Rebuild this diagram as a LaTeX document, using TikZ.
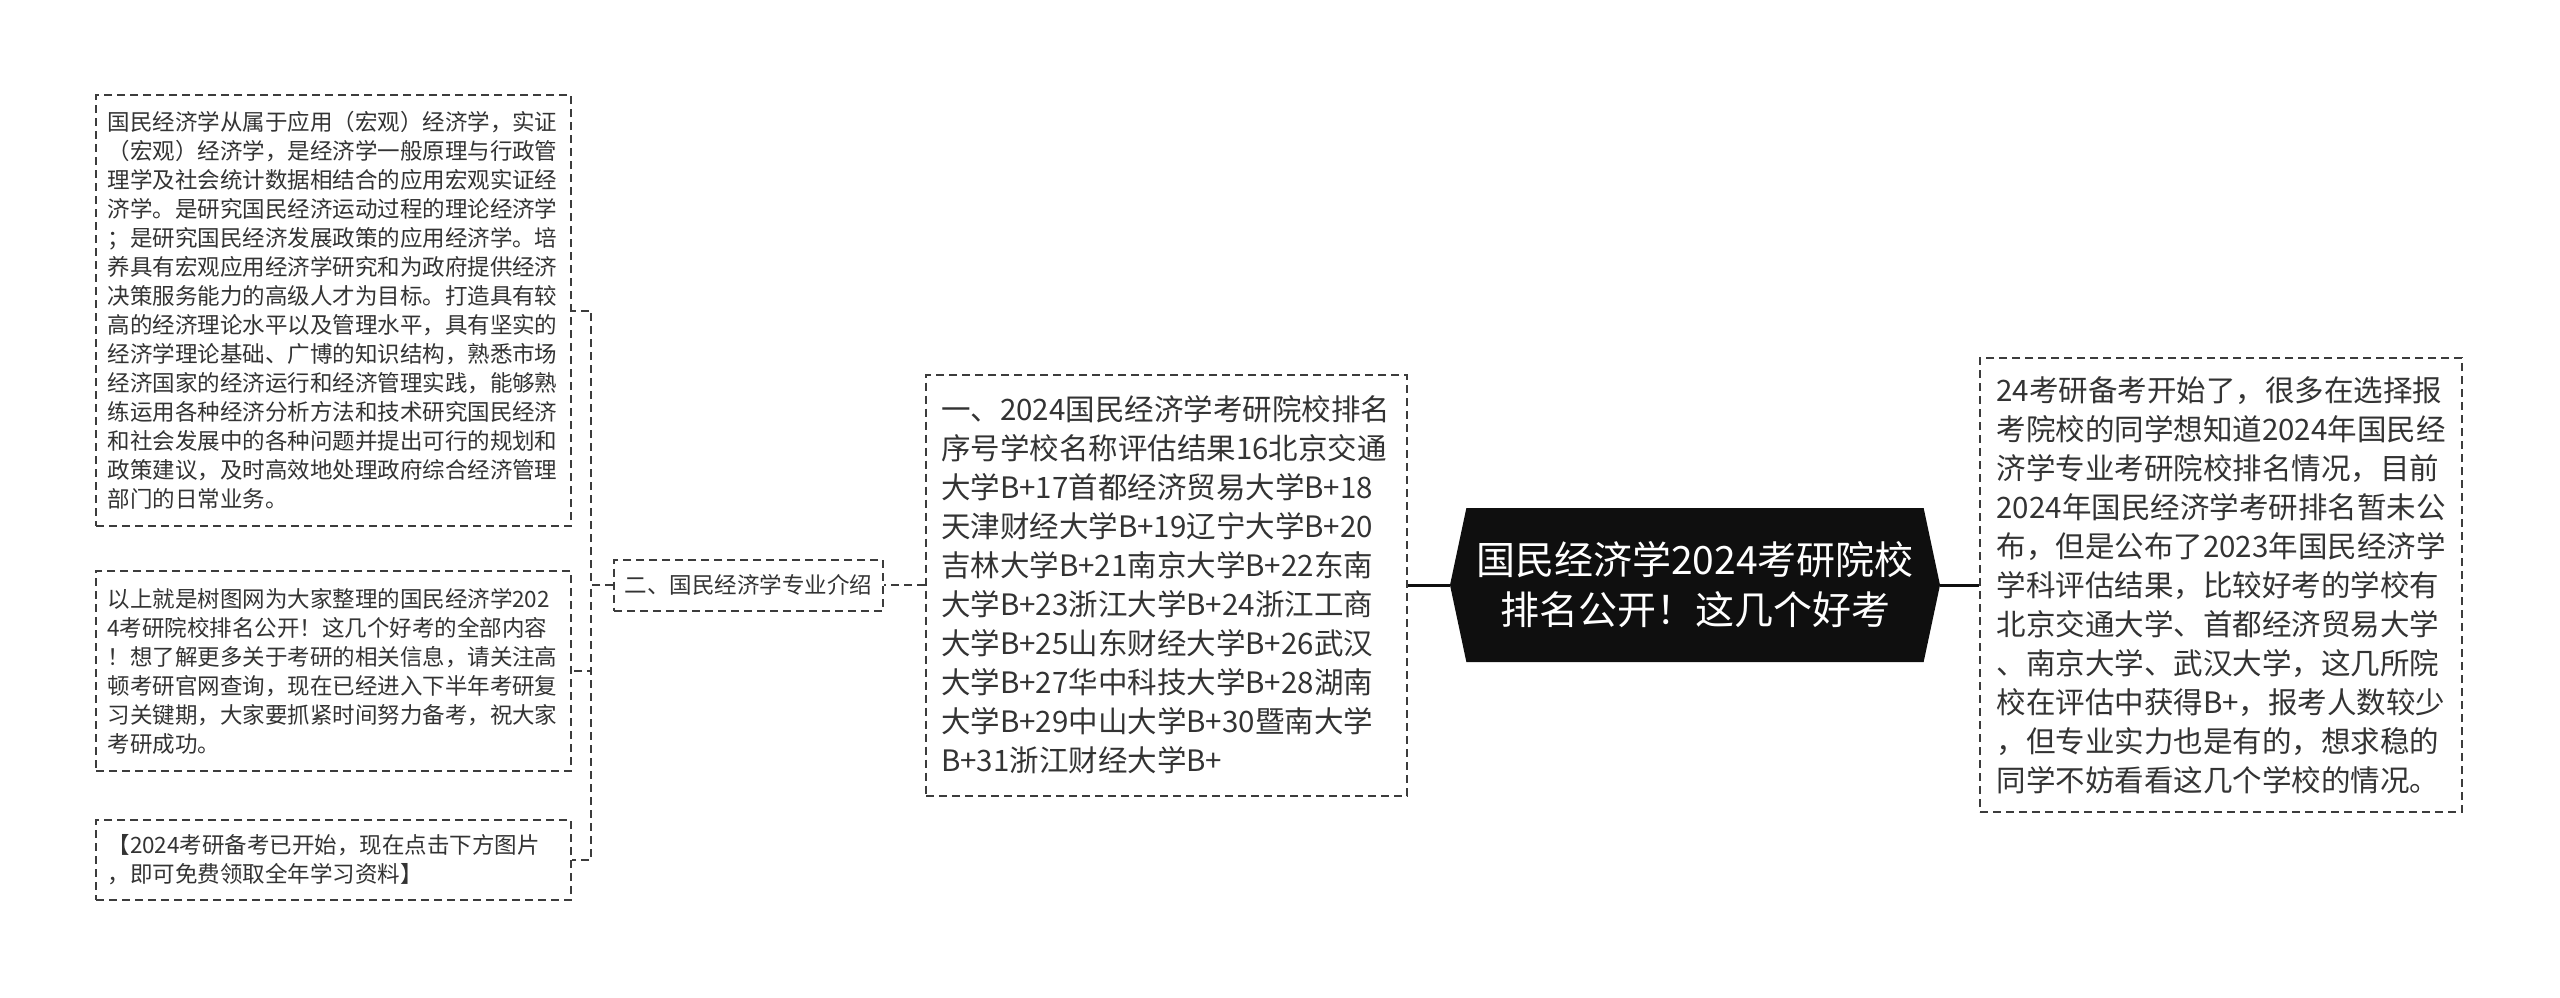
\documentclass[tikz,border=0pt]{standalone}
\usepackage{fontspec}
\setmainfont{Noto Sans CJK SC}
\usetikzlibrary{shapes.symbols}
\definecolor{ink}{HTML}{333333}
\definecolor{rim}{HTML}{3C3C3C}
\definecolor{hubfill}{HTML}{0F0F0F}
\newcommand{\ForkX}{591}
\newcommand{\TrunkY}{585}

\begin{document}
\begin{tikzpicture}[x=1pt, y=-1pt,
    font=\fontsize{22.5}{29}\selectfont, ink,
    card/.style={draw=rim, line width=2pt, dash pattern=on 8pt off 5pt, fill=white, inner ysep=0pt},
    leafcard/.style={card, align=left, text width=452pt, inner xsep=11.5pt, minimum width=475pt, font=\fontsize{22.5}{29}\selectfont},
    rankcard/.style={card, align=left, text width=451pt, inner xsep=15pt, font=\fontsize{29.5}{39}\selectfont},
    hub/.style={signal, signal to=west and east, signal pointer angle=156, fill=hubfill, draw=none, text=white, align=center, minimum width=490pt, minimum height=154pt, inner sep=0pt, font=\fontsize{39}{50}\selectfont},
    link/.style={line width=3pt, draw=hubfill},
    dash-link/.style={line width=2pt, draw=rim, dash pattern=on 8pt off 5pt},
  ]
\useasboundingbox (0,0) rectangle (2560,997);

% centre and the two big cards beside it
\node[hub] (hub) at (1695,\TrunkY) {国民经济学2024考研院校\\排名公开！这几个好考};
\node[rankcard, minimum height=421pt] (rank) at (1166.5,\TrunkY)
  {一、2024国民经济学考研院校排名\\序号学校名称评估结果16北京交通\\大学B+17首都经济贸易大学B+18\\天津财经大学B+19辽宁大学B+20\\吉林大学B+21南京大学B+22东南\\大学B+23浙江大学B+24浙江工商\\大学B+25山东财经大学B+26武汉\\大学B+27华中科技大学B+28湖南\\大学B+29中山大学B+30暨南大学\\B+31浙江财经大学B+};
\node[rankcard, text width=449pt, inner xsep=16.5pt, minimum height=454pt] (brief) at (2221,\TrunkY)
  {24考研备考开始了，很多在选择报\\考院校的同学想知道2024年国民经\\济学专业考研院校排名情况，目前\\2024年国民经济学考研排名暂未公\\布，但是公布了2023年国民经济学\\学科评估结果，比较好考的学校有\\北京交通大学、首都经济贸易大学\\、南京大学、武汉大学，这几所院\\校在评估中获得B+，报考人数较少\\，但专业实力也是有的，想求稳的\\同学不妨看看这几个学校的情况。};

% the introduction branch and its three leaves
\node[card, minimum width=269pt, minimum height=51pt, inner xsep=0pt] (intro) at (748.5,\TrunkY) {二、国民经济学专业介绍};
\node[leafcard, minimum height=431pt] (major) at (333.5,310.5)
  {国民经济学从属于应用（宏观）经济学，实证\\（宏观）经济学，是经济学一般原理与行政管\\理学及社会统计数据相结合的应用宏观实证经\\济学。是研究国民经济运动过程的理论经济学\\；是研究国民经济发展政策的应用经济学。培\\养具有宏观应用经济学研究和为政府提供经济\\决策服务能力的高级人才为目标。打造具有较\\高的经济理论水平以及管理水平，具有坚实的\\经济学理论基础、广博的知识结构，熟悉市场\\经济国家的经济运行和经济管理实践，能够熟\\练运用各种经济分析方法和技术研究国民经济\\和社会发展中的各种问题并提出可行的规划和\\政策建议，及时高效地处理政府综合经济管理\\部门的日常业务。};
\node[leafcard, minimum height=200pt] (wrapup) at (333.5,671)
  {以上就是树图网为大家整理的国民经济学202\\4考研院校排名公开！这几个好考的全部内容\\！想了解更多关于考研的相关信息，请关注高\\顿考研官网查询，现在已经进入下半年考研复\\习关键期，大家要抓紧时间努力备考，祝大家\\考研成功。};
\node[leafcard, minimum height=80pt] (promo) at (333.5,860)
  {【2024考研备考已开始，现在点击下方图片\\，即可免费领取全年学习资料】};

\draw[link] (rank.east) -- (hub.west);
\draw[link] (hub.east) -- (brief.west);
\draw[dash-link] (rank.west) -- (intro.east);
\foreach \leaf in {major, wrapup, promo}
  \draw[dash-link] (intro.west) -- (\ForkX,\TrunkY) |- (\leaf.east);

\end{tikzpicture}
\end{document}
